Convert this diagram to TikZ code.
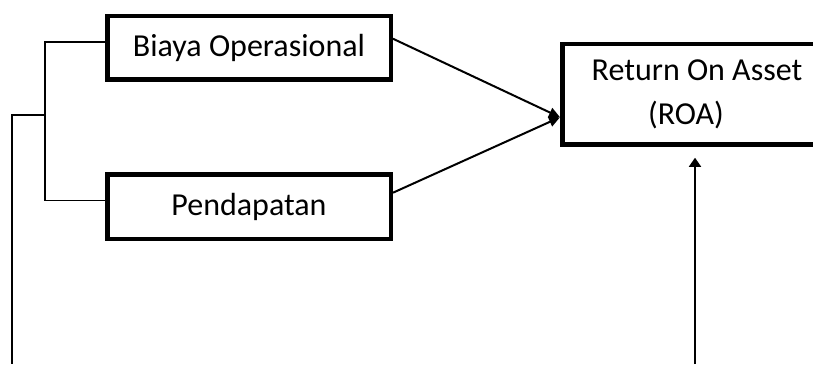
\documentclass[tikz,border=0pt]{standalone}
\usepackage{fontspec}
\setmainfont{Carlito}
\usetikzlibrary{arrows.meta}
\begin{document}
\begin{tikzpicture}[x=1pt,y=-1pt,
  kotak/.style={draw=cgaris,line width=4.5pt,fill=white,inner sep=0pt,align=center,
    font=\fontsize{32}{44}\selectfont},
  panah/.style={draw=cgaris,line width=2pt,-{Triangle[length=11pt,width=10pt]}},
  panahatas/.style={draw=cgaris,line width=1.6pt,-{Triangle[length=9pt,width=12pt]}},
  garis/.style={draw=cgaris,line width=1.5pt}]
\definecolor{cgaris}{rgb}{0.0,0.0,0.0}
\clip (0,0) rectangle (813,364);
%
\node[kotak,minimum width=283.5pt,minimum height=63.5pt] (biaya) at (249,47.75) {Biaya Operasional};
\node[kotak,minimum width=283.5pt,minimum height=64.5pt] (pend) at (249,206.7) {Pendapatan};
\node[kotak,minimum width=269.5pt,minimum height=100.5pt] (roa) at (697,94.25) {Return On Asset\\(ROA)\hspace*{22pt}};
%
\coordinate (cabang) at (45,115);
\coordinate (ujung) at (12,364);
\coordinate (bawah) at (695,364);
%
\draw[panah] ([yshift=9pt]biaya.east) -- ([yshift=-23pt]roa.west);
\draw[panah] ([yshift=14pt]pend.east) -- ([yshift=-23pt]roa.west);
\draw[panahatas,shorten >=11pt] (bawah) -- (bawah |- roa.south);
%
\draw[garis] ([yshift=6pt]biaya.west) -- ++(-60,0) |- ([yshift=6pt]pend.west);
\draw[garis] (cabang) -| (ujung);
%
\end{tikzpicture}
\end{document}
